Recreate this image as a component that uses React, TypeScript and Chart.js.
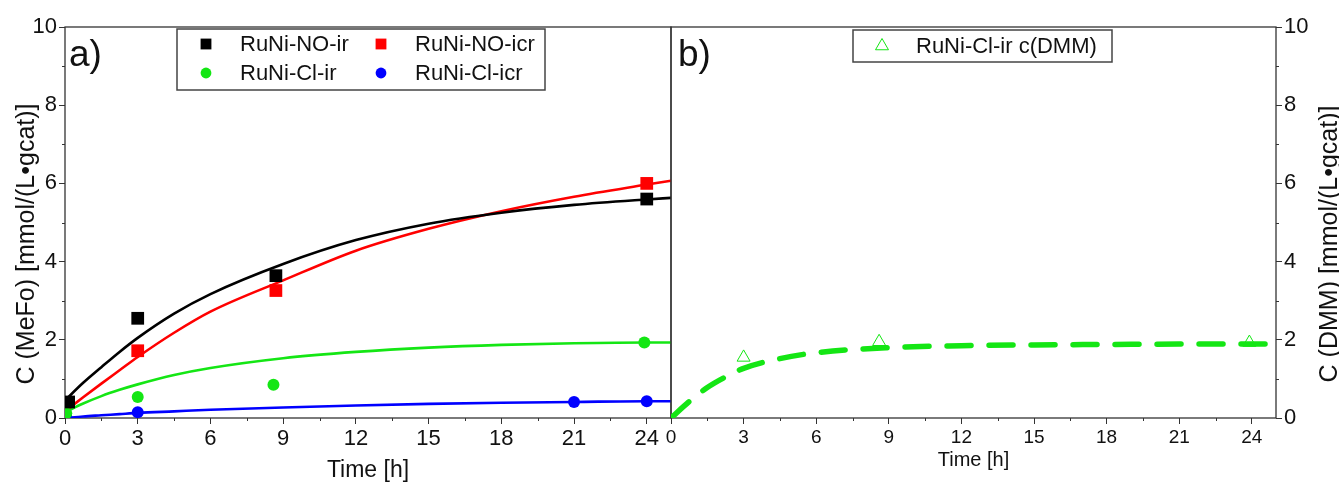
import React, { useEffect, useRef } from "react";
import { Chart, registerables } from "chart.js";

Chart.register(...registerables);

const FONT = "'Liberation Sans', Arial, Helvetica, sans-serif";

// ---------- tick values ----------
const xTicks = [0, 3, 6, 9, 12, 15, 18, 21, 24];
const xMinor = [1.5, 4.5, 7.5, 10.5, 13.5, 16.5, 19.5, 22.5];
const yTicks = [0, 2, 4, 6, 8, 10];
const yMinor = [1, 3, 5, 7, 9];

// ---------- panel a) measured points ----------
const legendA = ["RuNi-NO-ir", "RuNi-NO-icr", "RuNi-Cl-ir", "RuNi-Cl-icr"];
const noIrTime = [0.15, 3, 8.7, 24];
const noIrC = [0.41, 2.55, 3.64, 5.6];
const noIcrTime = [3, 8.7, 24];
const noIcrC = [1.72, 3.26, 6.0];
const clIrTime = [0.05, 3, 8.6, 23.9];
const clIrC = [0.12, 0.54, 0.85, 1.93];
const clIcrTime = [0.05, 3, 21, 24];
const clIcrC = [0.03, 0.15, 0.41, 0.43];

// ---------- panel a) fitted curves (read off the picture) ----------
const fitTime = [0, 0.75, 1.5, 2.25, 3, 4.5, 6, 9, 12, 15, 18, 21, 24, 25];
const noIrFit = [0.45, 0.9, 1.3, 1.69, 2.05, 2.67, 3.17, 3.94, 4.55, 4.97, 5.25, 5.45, 5.59, 5.63];
const noIcrFit = [0.17, 0.53, 0.88, 1.22, 1.56, 2.18, 2.72, 3.52, 4.28, 4.84, 5.29, 5.66, 5.97, 6.07];
const clIrFit = [0.15, 0.37, 0.56, 0.72, 0.86, 1.1, 1.28, 1.53, 1.69, 1.8, 1.87, 1.91, 1.93, 1.93];
const clIcrFit = [0.0, 0.04, 0.07, 0.1, 0.13, 0.17, 0.21, 0.27, 0.32, 0.36, 0.39, 0.41, 0.43, 0.43];

// ---------- panel b) ----------
const legendB = ["RuNi-Cl-ir c(DMM)"];
const dmmTime = [3, 8.6, 23.9];
const dmmC = [1.55, 1.95, 1.93];
const dmmFitTime = [0, 0.75, 1.5, 2.25, 3, 4.5, 6, 9, 12, 15, 18, 21, 24, 25];
const dmmFit = [0, 0.42, 0.78, 1.05, 1.27, 1.52, 1.67, 1.8, 1.85, 1.87, 1.88, 1.89, 1.89, 1.89];

const BLACK = "#000000";
const RED = "#ff0000";
const GREEN = "#14e614";
const BLUE = "#0000ff";

const pts = (xs: number[], ys: number[]) => xs.map((x, i) => ({ x, y: ys[i] }));

// draws frame, minor ticks, extra texts and a hand-placed legend
const decorPlugin = {
  id: "decor",
  beforeDatasetsDraw(chart: any, _args: any, opts: any) {
    const { ctx, chartArea: a, scales } = chart;
    ctx.save();
    ctx.strokeStyle = "#333";
    ctx.lineWidth = 1.3;
    ctx.strokeRect(a.left, a.top, a.right - a.left, a.bottom - a.top);
    ctx.lineWidth = 1;
    const xs = scales.x;
    for (const v of opts.minorX || []) {
      const px = Math.round(xs.getPixelForValue(v)) + 0.5;
      ctx.beginPath();
      ctx.moveTo(px, a.bottom);
      ctx.lineTo(px, a.bottom + 3);
      ctx.stroke();
    }
    const ys = scales.y;
    for (const v of opts.minorY || []) {
      const py = Math.round(ys.getPixelForValue(v)) + 0.5;
      ctx.beginPath();
      if (ys.position === "left") {
        ctx.moveTo(a.left, py);
        ctx.lineTo(a.left - 3, py);
      } else {
        ctx.moveTo(a.right, py);
        ctx.lineTo(a.right + 3, py);
      }
      ctx.stroke();
    }
    ctx.restore();
  },
  afterDraw(chart: any, _args: any, opts: any) {
    const { ctx } = chart;
    ctx.save();
    for (const t of opts.texts || []) {
      ctx.save();
      ctx.font = t.font;
      ctx.fillStyle = "#111";
      ctx.textAlign = t.align || "left";
      ctx.textBaseline = "middle";
      ctx.translate(t.x, t.y);
      if (t.rotate) ctx.rotate(t.rotate);
      ctx.fillText(t.text, 0, 0);
      ctx.restore();
    }
    const lg = opts.legend;
    if (lg) {
      ctx.fillStyle = "#ffffff";
      ctx.fillRect(lg.box[0], lg.box[1], lg.box[2], lg.box[3]);
      ctx.strokeStyle = "#444";
      ctx.lineWidth = 1.5;
      ctx.strokeRect(lg.box[0], lg.box[1], lg.box[2], lg.box[3]);
      ctx.font = lg.font;
      ctx.textBaseline = "middle";
      ctx.textAlign = "left";
      for (const it of lg.items) {
        const ds = chart.data.datasets[it.ds];
        const r = ds.pointRadius;
        ctx.fillStyle = ds.backgroundColor;
        ctx.strokeStyle = ds.borderColor;
        ctx.lineWidth = ds.borderWidth || 1;
        ctx.beginPath();
        if (ds.pointStyle === "rect") {
          const s = Math.SQRT1_2 * r * 0.85;
          ctx.rect(it.x - s, it.y - s, 2 * s, 2 * s);
          ctx.fill();
        } else if (ds.pointStyle === "triangle") {
          ctx.moveTo(it.x, it.y - r);
          ctx.lineTo(it.x + r * 0.866, it.y + r * 0.5);
          ctx.lineTo(it.x - r * 0.866, it.y + r * 0.5);
          ctx.closePath();
          ctx.stroke();
        } else {
          ctx.arc(it.x, it.y, r * 0.9, 0, Math.PI * 2);
          ctx.fill();
        }
        ctx.fillStyle = "#111";
        ctx.fillText(ds.label, it.tx, it.y + 1);
      }
    }
    ctx.restore();
  },
};

function makeXScale(tickSize: number, titleSize: number, titlePadBottom: number) {
  return {
    type: "linear",
    position: "bottom",
    min: 0,
    max: 25,
    afterBuildTicks: (s: any) => {
      s.ticks = xTicks.map((v) => ({ value: v }));
    },
    afterFit: (s: any) => {
      s.height = 66;
      s.paddingLeft = 0;
      s.paddingRight = 0;
    },
    border: { display: false },
    grid: { drawOnChartArea: false, drawTicks: true, tickLength: 6, color: "#333", lineWidth: 1 },
    ticks: { font: { size: tickSize, family: FONT }, color: "#111", padding: 2, maxRotation: 0, autoSkip: false },
    title: {
      display: true,
      text: "Time [h]",
      font: { size: titleSize, family: FONT },
      color: "#111",
      padding: { top: 0, bottom: titlePadBottom },
    },
  };
}

function makeYScale(position: string, width: number) {
  return {
    type: "linear",
    position,
    min: 0,
    max: 10,
    afterBuildTicks: (s: any) => {
      s.ticks = yTicks.map((v) => ({ value: v }));
    },
    afterFit: (s: any) => {
      s.width = width;
      s.paddingTop = 0;
      s.paddingBottom = 0;
    },
    border: { display: false },
    grid: { drawOnChartArea: false, drawTicks: true, tickLength: 6, color: "#333", lineWidth: 1 },
    ticks: { font: { size: 22, family: FONT }, color: "#111", padding: 2 },
    title: { display: false },
  };
}

function PanelA() {
  const ref = useRef<HTMLCanvasElement>(null);
  useEffect(() => {
    const markers = (label: string, xs: number[], ys: number[], color: string, style: string, r: number) => ({
      type: "scatter",
      label,
      data: pts(xs, ys),
      pointStyle: style,
      pointRadius: r,
      backgroundColor: color,
      borderColor: color,
      borderWidth: 0,
      showLine: false,
    });
    const fit = (xs: number[], ys: number[], color: string) => ({
      type: "scatter",
      label: "",
      data: pts(xs, ys),
      showLine: true,
      pointRadius: 0,
      borderColor: color,
      backgroundColor: color,
      borderWidth: 2.6,
      cubicInterpolationMode: "monotone",
    });
    const chart = new Chart(ref.current as HTMLCanvasElement, {
      type: "scatter",
      data: {
        datasets: [
          markers(legendA[0], noIrTime, noIrC, BLACK, "rect", 9),
          markers(legendA[1], noIcrTime, noIcrC, RED, "rect", 9),
          markers(legendA[2], clIrTime, clIrC, GREEN, "circle", 6),
          markers(legendA[3], clIcrTime, clIcrC, BLUE, "circle", 6),
          fit(fitTime, noIrFit, BLACK),
          fit(fitTime, noIcrFit, RED),
          fit(fitTime, clIrFit, GREEN),
          fit(fitTime, clIcrFit, BLUE),
        ] as any,
      },
      options: {
        animation: false,
        responsive: false,
        layout: { autoPadding: false, padding: { top: 27, right: 2, left: 0, bottom: 0 } },
        plugins: {
          legend: { display: false },
          tooltip: { enabled: false },
          decor: {
            minorX: xMinor,
            minorY: yMinor,
            texts: [
              { text: "a)", x: 69, y: 56, font: `37px ${FONT}` },
              { text: "C (MeFo) [mmol/(L•gcat)]", x: 27, y: 244, font: `25px ${FONT}`, align: "center", rotate: -Math.PI / 2 },
            ],
            legend: {
              box: [177, 29, 368, 61],
              font: `22px ${FONT}`,
              items: [
                { ds: 0, x: 206, y: 44, tx: 240 },
                { ds: 1, x: 381, y: 44, tx: 415 },
                { ds: 2, x: 206, y: 73, tx: 240 },
                { ds: 3, x: 381, y: 73, tx: 415 },
              ],
            },
          },
        } as any,
        scales: {
          x: makeXScale(22, 23, 0),
          y: makeYScale("left", 65),
        } as any,
      },
      plugins: [decorPlugin],
    });
    return () => chart.destroy();
  }, []);
  return (
    <canvas ref={ref} width={673} height={484} style={{ position: "absolute", left: 0, top: 0, width: 673, height: 484 }} />
  );
}

function PanelB() {
  const ref = useRef<HTMLCanvasElement>(null);
  useEffect(() => {
    const chart = new Chart(ref.current as HTMLCanvasElement, {
      type: "scatter",
      data: {
        datasets: [
          {
            type: "scatter",
            label: legendB[0],
            data: pts(dmmTime, dmmC),
            pointStyle: "triangle",
            pointRadius: 7.5,
            backgroundColor: "rgba(0,0,0,0)",
            borderColor: GREEN,
            borderWidth: 1,
            showLine: false,
          },
          {
            type: "scatter",
            label: "",
            data: pts(dmmFitTime, dmmFit),
            showLine: true,
            pointRadius: 0,
            borderColor: GREEN,
            backgroundColor: GREEN,
            borderWidth: 5.5,
            borderDash: [24, 18],
            borderCapStyle: "round",
            cubicInterpolationMode: "monotone",
          },
        ] as any,
      },
      options: {
        animation: false,
        responsive: false,
        layout: { autoPadding: false, padding: { top: 27, right: 0, left: 11, bottom: 0 } },
        plugins: {
          legend: { display: false },
          tooltip: { enabled: false },
          decor: {
            minorX: xMinor,
            minorY: yMinor,
            texts: [
              { text: "b)", x: 18, y: 56, font: `37px ${FONT}` },
              { text: "C (DMM) [mmol/(L•gcat)]", x: 670, y: 244, font: `25px ${FONT}`, align: "center", rotate: -Math.PI / 2 },
            ],
            legend: {
              box: [193, 30, 259, 32],
              font: `22px ${FONT}`,
              items: [{ ds: 0, x: 222, y: 46, tx: 256 }],
            },
          },
        } as any,
        scales: {
          x: makeXScale(19, 20, 12),
          y: makeYScale("right", 63),
        } as any,
      },
      plugins: [decorPlugin],
    });
    return () => chart.destroy();
  }, []);
  return (
    <canvas ref={ref} width={679} height={484} style={{ position: "absolute", left: 660, top: 0, width: 679, height: 484 }} />
  );
}

export default function App() {
  return (
    <div style={{ position: "fixed", left: 0, top: 0, width: 1339, height: 484, background: "#ffffff", overflow: "hidden" }}>
      <PanelA />
      <PanelB />
    </div>
  );
}
